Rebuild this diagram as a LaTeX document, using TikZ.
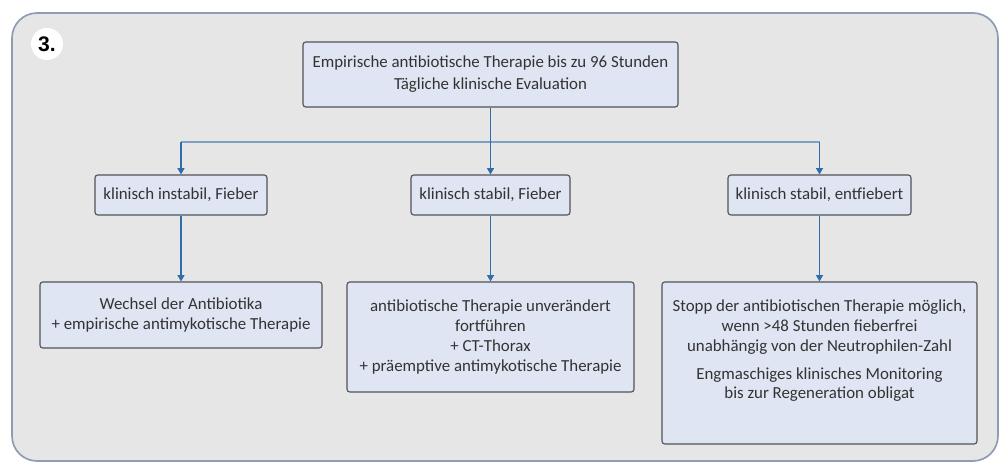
\documentclass[tikz,border=0pt]{standalone}
\usepackage{fontspec}
\setmainfont{Carlito}
\newfontfamily\numfont{Liberation Sans}
\usetikzlibrary{arrows.meta}
\newdimen\pxu
\pxu=0.025cm
\definecolor{panelfill}{HTML}{E6E6E6}
\definecolor{paneldraw}{HTML}{8E9DB3}
\definecolor{boxfill}{HTML}{DFE5F3}
\definecolor{boxdraw}{HTML}{505358}
\definecolor{flow}{HTML}{2F6EAD}
\definecolor{flowbar}{HTML}{7FA2C2}
\definecolor{textgray}{HTML}{333333}
\tikzset{
	box/.style={draw=boxdraw, fill=boxfill, line width=0.8pt, rounded corners=2pt,
		align=center, text=textgray, inner sep=0pt, font=\fontsize{12}{14}\selectfont},
	flowline/.style={draw=flow, line width=0.8pt, -{Triangle[width=5pt,length=4.5pt]}},
	flowbar/.style={draw=flowbar, line width=1.6pt},
}
\begin{document}
\begin{tikzpicture}[x=0.025cm, y=-0.025cm]
	\useasboundingbox (0, 0) rectangle (1007, 465);
	\draw[paneldraw, fill=panelfill, line width=1.2pt, rounded corners=25\pxu] (12, 13) rectangle (998, 461);
	\node[circle, fill=white, minimum size=32\pxu, inner sep=0pt, font=\numfont\bfseries\fontsize{15}{15}\selectfont] at (47, 44) (num) {3.};
	% top
	\node[box, minimum width=375\pxu, minimum height=65\pxu, font=\fontsize{12}{15.6}\selectfont] at (490.5, 74.5) (top) {Empirische antibiotische Therapie bis zu 96 Stunden\\Tägliche klinische Evaluation};
	% second row
	\node[box, minimum width=172\pxu, minimum height=40\pxu] at (181, 195) (instabil) {klinisch instabil, Fieber};
	\node[box, minimum width=159\pxu, minimum height=40\pxu] at (490.5, 195) (stabil) {klinisch stabil, Fieber};
	\node[box, minimum width=183\pxu, minimum height=40\pxu] at (819.5, 195) (entfiebert) {klinisch stabil, entfiebert};
	% third row
	\node[box, minimum width=282\pxu, minimum height=66\pxu] at (181, 315) (wechsel) {Wechsel der Antibiotika\\+ empirische antimykotische Therapie};
	\node[box, minimum width=287\pxu, minimum height=110\pxu] at (490.5, 337) (weiter) {antibiotische Therapie unverändert\\fortführen\\+ CT-Thorax\\+ präemptive antimykotische Therapie};
	\node[box, minimum width=315\pxu, minimum height=162\pxu] at (819.5, 363) (stopp) {\parbox[c][126\pxu][t]{310\pxu}{\centering Stopp der antibiotischen Therapie möglich,\\wenn >48 Stunden fieberfrei\\unabhängig von der Neutrophilen-Zahl\\[6pt]Engmaschiges klinisches Monitoring\\bis zur Regeneration obligat}};
	% connectors
	\coordinate (split) at (490.5, 142);
	\draw[flowbar] (instabil.north |- split) -- (entfiebert.north |- split);
	\draw[flowline] (top.south) -- (stabil.north);
	\draw[flowline] (instabil.north |- split) -- (instabil.north);
	\draw[flowline] (entfiebert.north |- split) -- (entfiebert.north);
	\draw[flowline] (instabil.south) -- (wechsel.north);
	\draw[flowline] (stabil.south) -- (weiter.north);
	\draw[flowline] (entfiebert.south) -- (stopp.north);
\end{tikzpicture}
\end{document}
